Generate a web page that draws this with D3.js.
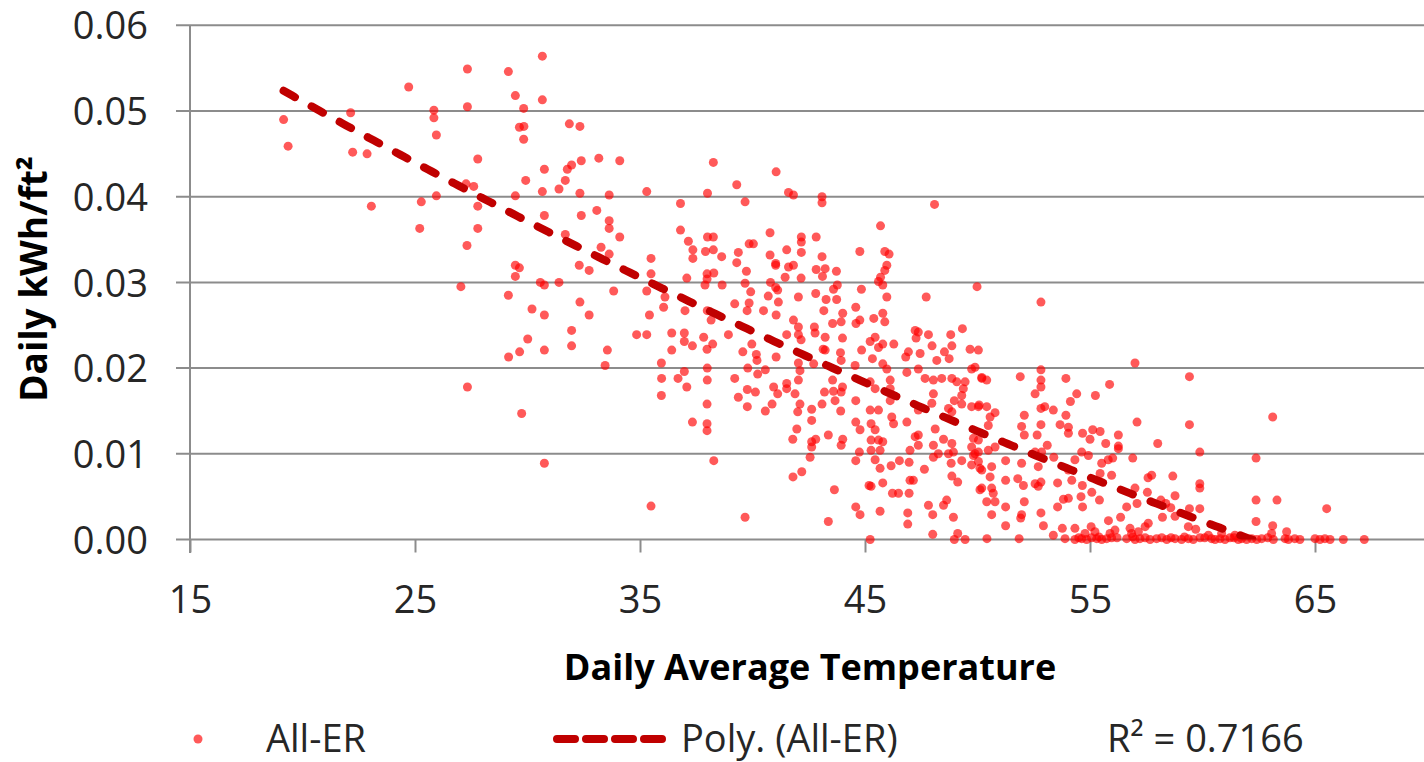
<!DOCTYPE html>
<html>
<head>
<meta charset="utf-8">
<script src="https://cdn.jsdelivr.net/npm/d3@7"></script>
<style>
  body { margin: 0; background: #fff; }
  text { font-family: "Open Sans", sans-serif; fill: #262626; }
</style>
</head>
<body>
<div id="chart"></div>
<script>
// axis ticks
const xTicks = [15, 25, 35, 45, 55, 65];
const yTicks = [0, 0.01, 0.02, 0.03, 0.04, 0.05, 0.06];

// All-ER points: [daily average temperature, daily kWh/ft2]
const allER = [
  [19.16,.0490],[19.36,.0459],[22.14,.0498],[22.23,.0452],[22.87,.0450],[23.06,.0389],[24.72,.0528],[25.84,.0501],
  [25.84,.0492],[25.95,.0472],[25.95,.0401],[25.28,.0394],[25.21,.0363],[27.33,.0549],[27.33,.0505],[27.79,.0444],
  [27.61,.0412],[27.27,.0415],[27.79,.0389],[27.79,.0363],[27.31,.0343],[27.04,.0295],[29.15,.0546],[29.46,.0518],
  [29.83,.0503],[29.64,.0481],[29.84,.0482],[29.83,.0467],[29.92,.0419],[29.46,.0401],[30.66,.0564],[30.66,.0513],
  [30.75,.0432],[30.66,.0406],[30.75,.0378],[31.86,.0485],[32.33,.0482],[31.96,.0437],[31.77,.0432],[31.68,.0419],
  [31.40,.0409],[32.39,.0442],[32.33,.0404],[32.39,.0378],[31.68,.0356],[29.46,.0320],[29.64,.0317],[29.46,.0307],
  [29.15,.0285],[30.57,.0300],[30.75,.0297],[31.40,.0300],[32.30,.0320],
  [30.20,.0269],[30.75,.0262],[32.33,.0277],[31.96,.0244],[31.96,.0226],[30.01,.0234],[29.65,.0219],[29.16,.0213],
  [30.75,.0221],[27.33,.0178],[29.74,.0147],[30.75,.0089],
  [33.17,.0445],[34.10,.0442],[38.26,.0440],[41.05,.0429],[33.63,.0402],[35.30,.0406],[38.00,.0404],[39.30,.0414],
  [39.67,.0394],[41.60,.0405],[41.82,.0402],[43.09,.0400],[43.09,.0393],[36.80,.0392],[48.09,.0391],[33.08,.0384],
  [33.63,.0372],[33.63,.0363],[34.10,.0353],[36.80,.0361],[37.15,.0348],[38.00,.0353],[38.26,.0353],[37.35,.0338],
  [37.35,.0328],[37.91,.0336],[38.26,.0338],[38.63,.0330],[39.37,.0335],[39.30,.0323],[39.85,.0345],[40.04,.0345],
  [40.78,.0358],[40.78,.0332],[41.03,.0322],[41.03,.0320],[41.52,.0338],[41.60,.0318],[41.82,.0320],[42.17,.0353],
  [42.17,.0347],[42.17,.0335],[42.83,.0353],[43.09,.0330],[42.83,.0315],[43.23,.0316],[43.11,.0307],[43.73,.0313],
  [44.77,.0336],[45.69,.0366],[45.88,.0336],[46.07,.0333],[45.97,.0320],[45.88,.0314],[45.69,.0306],[45.60,.0301],
  [45.79,.0297],[45.97,.0283],[49.98,.0295],[47.72,.0283],[33.27,.0341],[33.63,.0333],[32.74,.0314],[35.49,.0328],
  [35.49,.0310],[37.08,.0305],[33.83,.0290],[35.30,.0290],[32.74,.0262],[35.42,.0262],[36.11,.0283],[36.05,.0271],
  [37.00,.0267],[37.98,.0304],[37.98,.0310],[37.89,.0297],[38.28,.0311],[38.65,.0297],[37.99,.0267],[38.16,.0256],
  [39.73,.0313],[39.67,.0299],[39.92,.0289],[39.21,.0275],[39.85,.0276],[39.76,.0267],[40.49,.0267],[40.80,.0300],
  [41.03,.0294],[41.12,.0291],[40.70,.0284],[41.15,.0277],[41.45,.0306],[42.16,.0305],[42.04,.0283],[41.05,.0262],
  [42.81,.0287],[43.27,.0280],[43.17,.0267],[43.60,.0292],[43.77,.0297],[43.74,.0280],[44.84,.0292],[44.59,.0271],
  [44.01,.0264],[45.39,.0258],[45.79,.0264],[45.88,.0254],[34.85,.0239],[35.30,.0239],[33.55,.0221],[33.45,.0203],
  [36.41,.0241],[36.41,.0221],[35.95,.0206],[35.96,.0188],[36.69,.0188],[36.97,.0241],[36.97,.0231],[37.33,.0226],
  [36.97,.0196],[37.83,.0236],[37.98,.0222],[38.23,.0228],[37.99,.0200],[37.99,.0186],[38.93,.0239],[39.21,.0188],
  [39.57,.0219],[39.97,.0228],[40.17,.0216],[40.20,.0209],[39.79,.0200],[40.23,.0193],[40.57,.0198],[41.05,.0213],
  [41.52,.0239],[41.82,.0256],[42.04,.0248],[42.04,.0239],[42.16,.0233],[42.75,.0248],[42.78,.0241],[42.04,.0206],
  [42.11,.0197],[41.52,.0182],[42.04,.0186],[42.72,.0205],[43.23,.0236],[43.14,.0222],[43.23,.0221],[43.56,.0252],
  [43.94,.0254],[44.00,.0235],[43.91,.0218],[43.94,.0209],[43.56,.0186],[44.60,.0252],[44.77,.0256],[44.56,.0203],
  [44.85,.0221],[45.23,.0231],[45.45,.0236],[45.60,.0224],[45.79,.0228],[45.33,.0211],[45.79,.0205],[45.97,.0199],
  [46.28,.0228],[46.93,.0219],[46.81,.0213],[47.45,.0217],[47.23,.0244],[47.37,.0242],[47.27,.0235],[47.82,.0239],
  [47.98,.0226],[48.19,.0209],[48.53,.0219],[48.81,.0239],[48.86,.0226],[48.74,.0211],[49.33,.0246],[49.67,.0222],
  [50.04,.0221],[46.86,.0195],[47.37,.0199],[47.67,.0188],[48.04,.0186],[48.41,.0188],[48.86,.0188],[49.08,.0184],
  [49.74,.0199],[49.45,.0184],[50.19,.0189],[46.12,.0186],[46.12,.0176],[45.23,.0184],[45.45,.0176],
  [35.95,.0168],[37.08,.0178],[37.98,.0158],[37.33,.0137],[37.98,.0135],[37.98,.0127],[38.28,.0092],[35.49,.0039],
  [39.67,.0026],[39.37,.0166],[39.77,.0175],[40.13,.0172],[39.77,.0155],[40.57,.0150],[40.87,.0158],[40.94,.0178],
  [41.12,.0170],[41.52,.0176],[41.89,.0170],[42.11,.0158],[42.01,.0149],[42.63,.0152],[42.63,.0139],[43.09,.0158],
  [43.20,.0172],[43.60,.0173],[43.67,.0162],[43.94,.0172],[44.00,.0178],[43.92,.0150],[41.97,.0129],[41.79,.0117],
  [42.63,.0114],[42.81,.0117],[42.63,.0108],[42.56,.0096],[43.37,.0122],[44.01,.0117],[43.94,.0110],[41.80,.0073],
  [42.19,.0079],[43.64,.0058],[43.37,.0021],[44.59,.0162],[44.59,.0137],[44.78,.0128],[44.75,.0102],[44.59,.0092],
  [44.59,.0038],[44.78,.0029],[45.23,.0000],[45.27,.0062],[45.18,.0063],[45.67,.0033],[45.79,.0066],[45.23,.0151],
  [45.60,.0151],[45.27,.0135],[45.45,.0128],[45.27,.0116],[45.60,.0116],[45.79,.0114],[45.27,.0104],[45.67,.0104],
  [45.45,.0093],[45.67,.0083],[46.16,.0086],[46.53,.0092],[46.22,.0054],[46.49,.0054],[46.96,.0054],[47.00,.0069],
  [47.15,.0069],[46.96,.0090],[46.19,.0143],[46.27,.0135],[46.12,.0162],[46.86,.0137],[46.90,.0031],[46.90,.0018],
  [47.00,.0104],[47.37,.0110],[47.37,.0122],[47.64,.0082],[47.82,.0040],[48.01,.0029],[48.01,.0006],[48.49,.0040],
  [48.63,.0046],[48.93,.0026],[49.12,.0007],[48.97,.0000],[49.45,.0000],[49.12,.0067],[48.86,.0074],[48.04,.0096],
  [48.26,.0100],[48.71,.0100],[48.93,.0102],[48.83,.0089],[49.30,.0092],[49.74,.0087],[50.11,.0083],[50.11,.0058],
  [48.12,.0129],[48.49,.0117],[48.04,.0110],[48.86,.0112],[47.97,.0159],[48.04,.0170],[48.71,.0153],[48.86,.0149],
  [48.97,.0162],[49.30,.0158],[49.37,.0176],[49.30,.0168],[49.74,.0155],[49.82,.0118],[50.04,.0155],[49.74,.0108],
  [49.82,.0098],[50.04,.0102],[47.37,.0151],[47.23,.0120],
  [52.82,.0277],[52.82,.0198],[57.00,.0206],[59.42,.0190],[63.12,.0143],[59.42,.0134],[57.09,.0137],[58.01,.0112],
  [59.88,.0102],[62.38,.0095],[50.19,.0188],[50.41,.0186],[51.90,.0190],[52.82,.0186],[52.82,.0178],[53.93,.0188],
  [52.56,.0170],[54.41,.0170],[55.24,.0168],[55.87,.0181],[54.13,.0161],[50.07,.0157],[50.41,.0155],[52.82,.0153],
  [52.99,.0155],[53.37,.0151],[52.08,.0145],[53.93,.0145],[50.56,.0143],[50.78,.0148],[50.48,.0133],[52.82,.0134],
  [53.67,.0134],[51.96,.0132],[52.08,.0122],[54.04,.0131],[54.04,.0124],[52.65,.0122],[54.67,.0124],[55.12,.0128],
  [55.45,.0126],[55.00,.0117],[55.70,.0112],[56.26,.0122],[56.26,.0109],[56.26,.0106],[53.10,.0110],[52.56,.0102],
  [52.85,.0102],[54.63,.0102],[54.93,.0098],[56.90,.0095],[53.39,.0096],[49.89,.0100],[50.04,.0091],[51.25,.0092],
  [51.96,.0089],[52.70,.0085],[50.19,.0081],[50.63,.0085],[54.33,.0093],[55.52,.0089],[55.81,.0093],[56.01,.0095],
  [54.04,.0081],[54.19,.0069],[55.45,.0077],[55.96,.0075],[51.25,.0069],[51.79,.0071],[52.04,.0063],[52.56,.0065],
  [52.82,.0067],[52.70,.0062],[53.56,.0066],[54.66,.0063],[55.08,.0055],[50.19,.0060],[50.63,.0060],[50.70,.0054],
  [50.41,.0044],[50.78,.0044],[50.63,.0029],[51.25,.0038],[52.08,.0044],[51.96,.0029],[51.92,.0025],[51.25,.0016],
  [52.82,.0031],[52.93,.0016],[53.56,.0038],[53.82,.0047],[54.04,.0048],[54.60,.0050],[54.67,.0038],[55.42,.0046],
  [55.82,.0022],[56.36,.0026],[56.63,.0038],[57.09,.0042],[57.58,.0072],[57.74,.0075],[57.55,.0055],[57.00,.0060],
  [58.68,.0074],[58.78,.0051],[59.88,.0065],[59.88,.0060],[58.15,.0046],[58.37,.0042],[58.59,.0037],[58.22,.0026],
  [58.78,.0027],[59.42,.0036],[59.88,.0036],[62.38,.0046],[63.31,.0046],[62.38,.0021],[65.52,.0036],[63.12,.0016],
  [59.37,.0015],[59.70,.0012],[57.59,.0019],[57.45,.0015],[56.78,.0013],[53.37,.0005],[53.77,.0013],[54.33,.0013],
  [55.05,.0015],[55.89,.0007],[56.11,.0011],[50.42,.0001],[51.85,.0001],[49.89,.0201],[50.48,.0104],[50.78,.0108],
  [50.04,.0116],[50.56,.0073],
  [54.78,.0007],[55.22,.0009],[56.85,.0007],[57.15,.0009],[60.26,.0005],[60.85,.0007],[61.44,.0005],[63.07,.0007],
  [63.74,.0009]
];

// days that sit on (or right above) zero use
const allERZero = [
  [53.89,.0001],[54.33,.0000],[54.50,.0002],[54.63,.0001],[54.85,.0000],[55.07,.0002],[55.30,.0001],[55.40,.0003],
  [55.52,.0000],[55.74,.0001],[55.96,.0002],[56.20,.0002],[56.63,.0001],[56.90,.0003],[57.00,.0000],[57.22,.0001],
  [57.45,.0002],[57.67,.0000],[57.96,.0001],[58.19,.0002],[58.41,.0000],[58.60,.0002],[58.78,.0001],[59.07,.0000],
  [59.20,.0003],[59.37,.0001],[59.59,.0000],[59.89,.0002],[60.10,.0002],[60.40,.0001],[60.56,.0000],[60.78,.0001],
  [61.00,.0000],[61.22,.0002],[61.40,.0002],[61.59,.0000],[61.74,.0001],[61.96,.0000],[62.19,.0001],[62.41,.0000],
  [62.63,.0001],[62.90,.0002],[63.15,.0000],[63.67,.0001],[63.82,.0000],[64.10,.0001],[64.33,.0000],[65.00,.0001],
  [65.22,.0000],[65.44,.0001],[65.67,.0000],[66.26,.0000],[67.19,.0000]
];

// Excel polynomial trendline (order 2): c0 + c1*x + c2*x^2
const polyCoef = [0.08262, -0.0016913, 0.000005832];
const rSquared = "0.7166";

const width = 1424, height = 762;

let svg = d3.select("#chart").append("svg")
  .attr("width", width)
  .attr("height", height)
  .style("background", "#fff");

let x = d3.scaleLinear().domain([15, 70]).range([190, 1427.5]);
let y = d3.scaleLinear().domain([0, 0.06]).range([539.5, 25.3]);

const gridColor = "#8c8c8c";

// horizontal gridlines (with the little outside ticks on the left)
svg.append("g")
  .selectAll("line")
  .data(yTicks)
  .enter().append("line")
    .attr("x1", 176)
    .attr("x2", width)
    .attr("y1", d => y(d))
    .attr("y2", d => y(d))
    .style("stroke", gridColor)
    .style("stroke-width", 2);

// y axis
let yAxis = svg.append("g")
  .attr("transform", "translate(190,0)")
  .call(d3.axisLeft(y).tickValues(yTicks).tickSize(14).tickSizeOuter(0)
    .tickPadding(28).tickFormat(d3.format(".2f")));
yAxis.select(".domain").remove();
yAxis.selectAll("line").remove();
yAxis.selectAll("text")
  .attr("dy", "0.36em")
  .style("font-size", "38px");

svg.append("line")
  .attr("x1", 190).attr("x2", 190)
  .attr("y1", y(0.06)).attr("y2", 553)
  .style("stroke", gridColor)
  .style("stroke-width", 2);

// x axis
let xAxis = svg.append("g")
  .attr("transform", "translate(0," + y(0) + ")")
  .call(d3.axisBottom(x).tickValues(xTicks).tickSize(13).tickSizeOuter(0).tickPadding(34));
xAxis.select(".domain").remove();
xAxis.selectAll("line")
  .style("stroke", gridColor)
  .style("stroke-width", 2);
xAxis.selectAll("text")
  .style("font-size", "38px");

// scatter
const dotStyle = function (sel) {
  sel.attr("r", 4.5)
    .style("fill", "#ff0000")
    .style("fill-opacity", 0.65);
};

svg.append("g")
  .selectAll("circle")
  .data(allER.concat(allERZero))
  .enter().append("circle")
    .attr("cx", d => x(d[0]))
    .attr("cy", d => y(d[1]))
    .call(dotStyle);

// trendline, clipped to the plot area like Excel does
svg.append("clipPath")
  .attr("id", "plot-clip")
  .append("rect")
    .attr("x", 190)
    .attr("y", y(0.06))
    .attr("width", width - 190)
    .attr("height", y(0) - y(0.06));

const allPoints = allER.concat(allERZero);
const tMin = d3.min(allPoints, d => d[0]);
const tMax = d3.max(allPoints, d => d[0]);
const poly = t => polyCoef[0] + polyCoef[1] * t + polyCoef[2] * t * t;

const trendStyle = function (sel) {
  sel.style("fill", "none")
    .style("stroke", "#c00000")
    .style("stroke-width", 8)
    .style("stroke-linecap", "round")
    .style("stroke-dasharray", "13 19");
};

svg.append("path")
  .datum(d3.range(tMin, tMax, 0.2).concat([tMax]))
  .attr("clip-path", "url(#plot-clip)")
  .attr("d", d3.line().x(t => x(t)).y(t => y(poly(t))))
  .call(trendStyle);

// axis titles
svg.append("text")
  .attr("transform", "translate(47,279) rotate(-90)")
  .attr("text-anchor", "middle")
  .style("font-size", "37px")
  .style("font-weight", "bold")
  .style("fill", "#000")
  .text("Daily kWh/ft²");

svg.append("text")
  .attr("x", 810)
  .attr("y", 680)
  .attr("text-anchor", "middle")
  .style("font-size", "36px")
  .style("font-weight", "bold")
  .style("fill", "#000")
  .text("Daily Average Temperature");

// legend
let legend = svg.append("g");

legend.append("circle")
  .attr("cx", 198)
  .attr("cy", 739)
  .call(dotStyle);

legend.append("text")
  .attr("x", 266)
  .attr("y", 752)
  .style("font-size", "38px")
  .text("All-ER");

legend.append("line")
  .attr("x1", 557).attr("x2", 668)
  .attr("y1", 739).attr("y2", 739)
  .call(trendStyle)
  .style("stroke-dasharray", "18 11");

legend.append("text")
  .attr("x", 681)
  .attr("y", 752)
  .style("font-size", "38px")
  .text("Poly. (All-ER)");

legend.append("text")
  .attr("x", 1107)
  .attr("y", 752)
  .style("font-size", "38px")
  .text("R² = " + rSquared);
</script>
</body>
</html>
